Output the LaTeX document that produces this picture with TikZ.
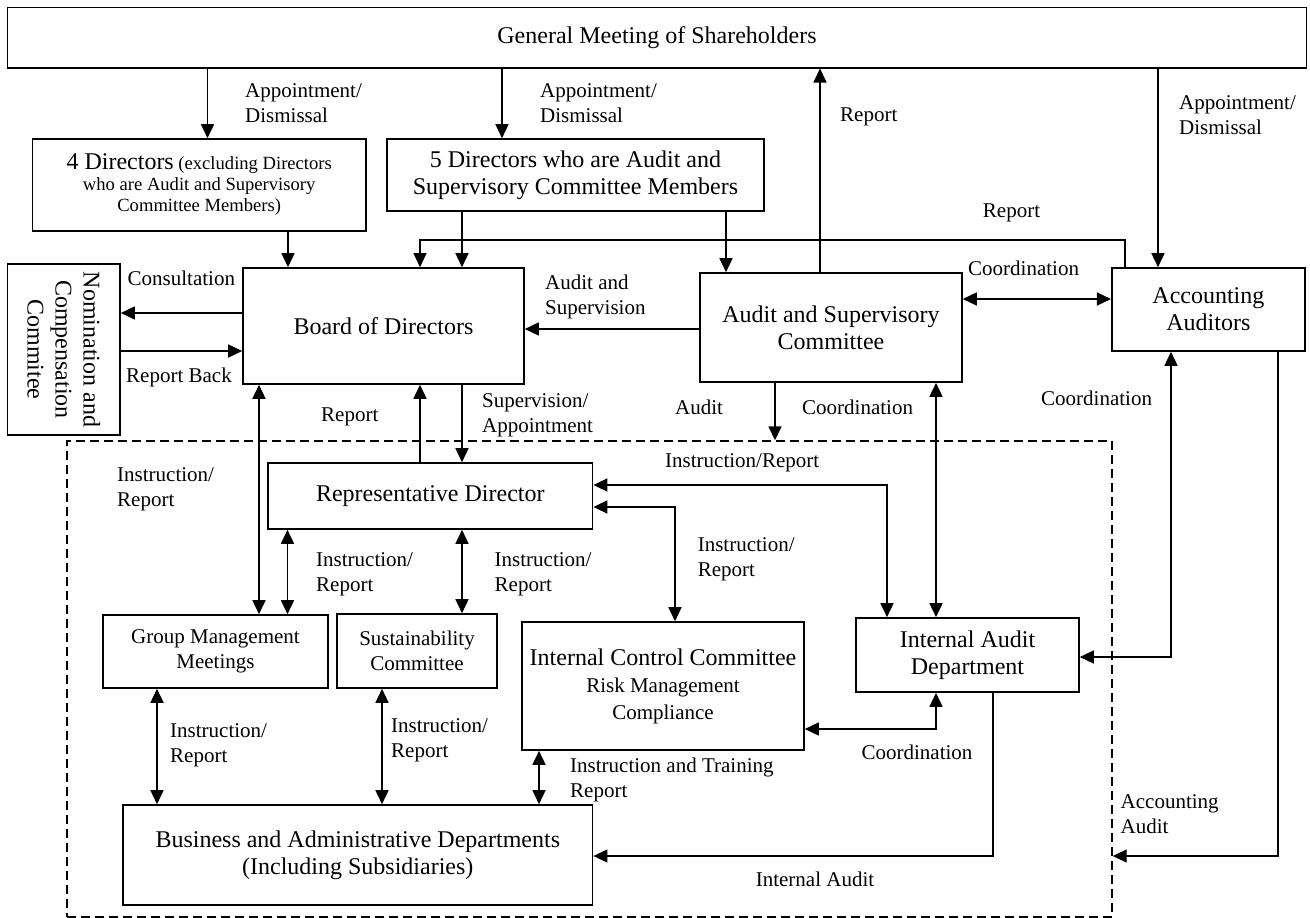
\documentclass[tikz,border=0pt]{standalone}
\usepackage{fontspec}
\setmainfont{Liberation Serif}
\usetikzlibrary{arrows.meta}
\newcommand\bigf{\fontsize{24}{27}\selectfont}
\newcommand\labf{\fontsize{21}{25}\selectfont}
\newcommand\smf{\fontsize{18.6}{21}\selectfont}
\begin{document}
\begin{tikzpicture}[x=1pt,y=-1pt,
 box/.style={draw, line width=1.6pt, inner sep=0pt, align=center, font=\bigf},
 arr/.style={line width=1.6pt, -{Triangle[length=14pt,width=13pt]}},
 darr/.style={line width=1.6pt, {Triangle[length=14pt,width=13pt]}-{Triangle[length=14pt,width=13pt]}},
 thinarr/.style={line width=1.1pt, -{Triangle[length=14pt,width=13pt]}},
 thinline/.style={line width=1.1pt},
 lab/.style={font=\labf, align=left, anchor=west, inner sep=0pt},
 labc/.style={font=\labf, align=center, inner sep=0pt},
]
\useasboundingbox (0,0) rectangle (1310,918);
% x positions
\coordinate (c1) at (207.5,0);
\coordinate (c2) at (502,0);
\coordinate (c3) at (288,0);
\coordinate (c4) at (462,0);
\coordinate (c5) at (420,0);
\coordinate (c6) at (726,0);
\coordinate (c7) at (820,0);
\coordinate (c8) at (1158,0);
\coordinate (c9) at (1125,0);
\coordinate (c10) at (775,0);
\coordinate (c11) at (936,0);
\coordinate (c12) at (1171,0);
\coordinate (c13) at (1278,0);
\coordinate (c14) at (259,0);
\coordinate (c15) at (287.5,0);
\coordinate (c16) at (157,0);
\coordinate (c17) at (382,0);
\coordinate (c18) at (539,0);
\coordinate (c19) at (887,0);
\coordinate (c20) at (675,0);
\coordinate (c21) at (993,0);
% y positions
\coordinate (yR) at (0,240);
\coordinate (yC) at (0,313);
\coordinate (yB) at (0,351);
\coordinate (yAS) at (0,329);
\coordinate (yCo) at (0,299);
\coordinate (yRI) at (0,485);
\coordinate (yRC) at (0,507);
\coordinate (yAI) at (0,657);
\coordinate (yII) at (0,729);
\coordinate (yIA) at (0,856);

% group (dashed)
\node[draw, line width=1.4pt, dash pattern=on 9pt off 5pt, minimum width=1045pt, minimum height=476pt, inner sep=0pt] (grp) at (589.5,679) {};

% boxes
\node[box, minimum width=1299pt, minimum height=60.4pt] (gm) at (657,37.5) {General Meeting of Shareholders};
\node[box, minimum width=333.6pt, minimum height=92pt, font=\smf] (dir4) at (199.2,185) {{\bigf 4 Directors} (excluding Directors\\\smf who are Audit and Supervisory\\\smf Committee Members)};
\node[box, minimum width=377pt, minimum height=72pt] (dir5) at (575.5,175) {5 Directors who are Audit and\\Supervisory Committee Members};
\node[box, rotate=-90, minimum width=171pt, minimum height=112.4pt, font={\fontsize{24}{28}\selectfont}] (nom) at (63.8,349.5) {Nomination and\\Compensation\\Commitee};
\node[box, minimum width=281pt, minimum height=116pt] (board) at (383.5,326) {Board of Directors};
\node[box, minimum width=262pt, minimum height=109pt] (asc) at (831,327.5) {Audit and Supervisory\\Committee};
\node[box, minimum width=193.3pt, minimum height=83pt] (acc) at (1208.4,309.5) {Accounting\\Auditors};
\node[box, minimum width=324.6pt, minimum height=66pt] (rep) at (430.3,496) {Representative Director};
\node[box, minimum width=225pt, minimum height=73pt, font=\labf] (gmm) at (215.5,651.5) {Group Management\\\labf Meetings};
\node[box, minimum width=160pt, minimum height=74pt, font=\labf] (sust) at (417,651) {Sustainability\\\labf Committee};
\node[box, minimum width=282pt, minimum height=128pt] (icc) at (663,686) {Internal Control Committee\\\labf Risk Management\\\labf Compliance};
\node[box, minimum width=223pt, minimum height=74pt] (iad) at (967.5,655) {Internal Audit\\Department};
\node[box, minimum width=469.6pt, minimum height=100pt] (bad) at (357.8,855) {Business and Administrative Departments\\(Including Subsidiaries)};

% connectors
\draw[arr] (gm.south -| c1) -- (dir4.north -| c1);
\draw[arr] (gm.south -| c2) -- (dir5.north -| c2);
\draw[arr] (gm.south -| c8) -- (acc.north -| c8);
\draw[arr] (asc.north -| c7) -- (gm.south -| c7);
\draw[arr] (dir4.south -| c3) -- (board.north -| c3);
\draw[arr] (dir5.south -| c4) -- (board.north -| c4);
\draw[arr] (dir5.south -| c6) -- (asc.north -| c6);
\draw[thinarr] (acc.north -| c9) |- (c5 |- yR) -- (board.north -| c5);
\draw[arr] (board.west |- yC) -- (nom.north |- yC);
\draw[arr] (nom.north |- yB) -- (board.west |- yB);
\draw[arr] (asc.west |- yAS) -- (board.east |- yAS);
\draw[darr] (asc.east |- yCo) -- (acc.west |- yCo);
\draw[arr] (asc.south -| c10) -- (grp.north -| c10);
\draw[darr] (asc.south -| c11) -- (iad.north -| c11);
\draw[darr] (acc.south -| c12) |- (iad.east |- yAI);
\draw[thinarr] (acc.south -| c13) |- (grp.east |- yIA);
\draw[darr] (board.south -| c14) -- (gmm.north -| c14);
\draw[arr] (rep.north -| c5) -- (board.south -| c5);
\draw[arr] (board.south -| c4) -- (rep.north -| c4);
\draw[darr] (rep.south -| c15) -- (gmm.north -| c15);
\draw[darr] (rep.south -| c4) -- (sust.north -| c4);
\draw[darr] (rep.east |- yRI) -| (iad.north -| c19);
\draw[darr] (rep.east |- yRC) -| (icc.north -| c20);
\draw[darr] (gmm.south -| c16) -- (bad.north -| c16);
\draw[darr] (sust.south -| c17) -- (bad.north -| c17);
\draw[darr] (icc.south -| c18) -- (bad.north -| c18);
\draw[darr] (icc.east |- yII) -| (iad.south -| c11);
\draw[thinarr] (iad.south -| c21) |- (bad.east |- yIA);

% labels
\node[lab] (l1) at (245,103) {Appointment/\\Dismissal};
\node[lab] (l2) at (540,103) {Appointment/\\Dismissal};
\node[lab] (l3) at (1179,115.5) {Appointment/\\Dismissal};
\node[lab] (l4) at (840,117) {Report};
\node[labc] (l5) at (1011.5,213) {Report};
\node[lab] (l6) at (127.5,278) {Consultation};
\node[lab] (l7) at (126,377) {Report Back};
\node[lab] (l8) at (545,296.5) {Audit and\\Supervision};
\node[lab] (l9) at (968,268) {Coordination};
\node[lab] (l10) at (1041,398) {Coordination};
\node[lab] (l11) at (675,407) {Audit};
\node[lab] (l12) at (802,407) {Coordination};
\node[lab] (l13) at (321,417) {Report};
\node[lab] (l14) at (482,415.5) {Supervision/\\Appointment};
\node[lab] (l15) at (117,489.5) {Instruction/\\Report};
\node[lab] (l16) at (665,463) {Instruction/Report};
\node[lab] (l17) at (316,574.5) {Instruction/\\Report};
\node[lab] (l18) at (494.5,574.5) {Instruction/\\Report};
\node[lab] (l19) at (697.6,559.5) {Instruction/\\Report};
\node[lab] (l20) at (170,745.5) {Instruction/\\Report};
\node[lab] (l21) at (391,740.5) {Instruction/\\Report};
\node[lab] (l22) at (570,780) {Instruction and Training\\Report};
\node[labc] (l23) at (917,752) {Coordination};
\node[labc] (l24) at (815,879) {Internal Audit};
\node[lab] (l25) at (1120.5,814.5) {Accounting\\Audit};
\end{tikzpicture}
\end{document}
